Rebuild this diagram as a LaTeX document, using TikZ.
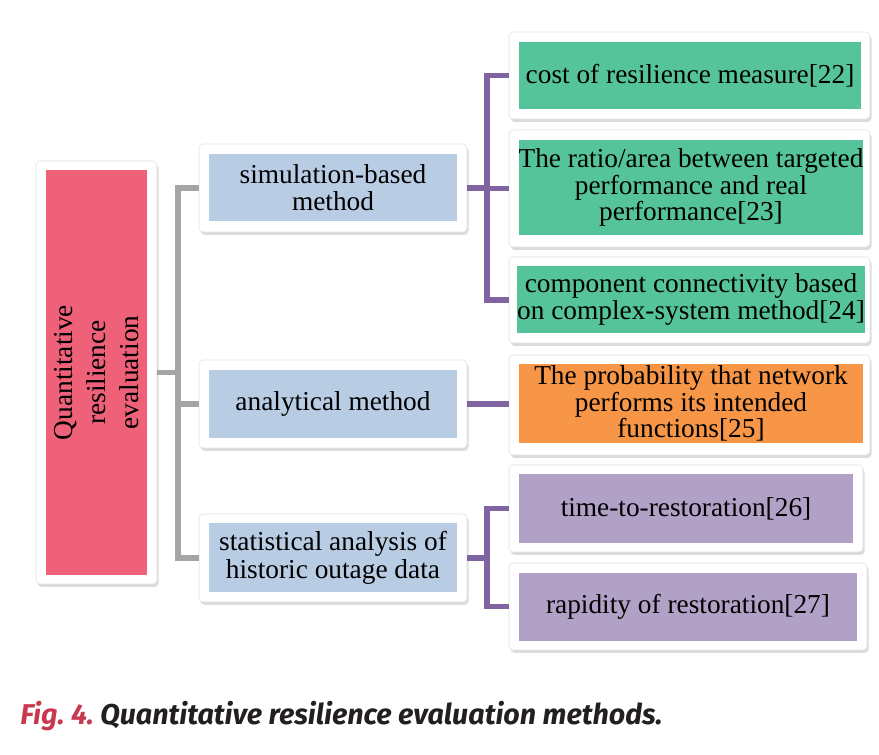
\documentclass[tikz,border=0pt]{standalone}
\usepackage{fontspec}
\setmainfont{Liberation Serif}
\newfontfamily\capfont{Fira Sans}
\usetikzlibrary{shadows}
\definecolor{qred}{HTML}{EF6178}
\definecolor{qblue}{HTML}{B8CCE4}
\definecolor{qgreen}{HTML}{55C49A}
\definecolor{qorange}{HTML}{F79646}
\definecolor{qpurple}{HTML}{B2A1C7}
\definecolor{qline}{HTML}{8064A2}
\definecolor{qgray}{HTML}{A5A5A5}
\definecolor{capred}{HTML}{C8384F}
\definecolor{captext}{HTML}{231F20}
\tikzset{
  card/.style={draw=black!12, line width=0.4pt, fill=white, rounded corners=3pt,
    drop shadow={opacity=0.28, shadow xshift=1.2pt, shadow yshift=-2.2pt}, inner sep=0pt},
  inbox/.style={inner sep=0pt, align=center, text=black},
  grayconn/.style={draw=qgray, line width=3.8pt},
  purpconn/.style={draw=qline, line width=3.8pt},
  midtxt/.style={font=\fontsize{20.5}{20.3}\selectfont},
  righttxt/.style={font=\fontsize{20.5}{18}\selectfont},
}
\begin{document}
\begin{tikzpicture}[x=0.75pt,y=-0.75pt]
\useasboundingbox (0,0) rectangle (879,755);
% left
\node[card, minimum width=121*0.75pt, minimum height=423*0.75pt] (Lc) at (96.5,372.5) {};
\node[inbox, fill=qred, minimum width=101*0.75pt, minimum height=405*0.75pt] (L) at (96.5,372.5) {};
\node[inbox, rotate=90, font=\fontsize{20.5}{24.75}\selectfont] (Lt) at (96.5,372.5) {Quantitative\\resilience\\evaluation};
% middle
\node[card, minimum width=268*0.75pt, minimum height=88*0.75pt] (Sc) at (333,188) {};
\node[inbox, midtxt, fill=qblue, minimum width=248*0.75pt, minimum height=67*0.75pt] (S) at (333,187.5) {simulation-based\\method};
\node[card, minimum width=268*0.75pt, minimum height=88*0.75pt] (Ac) at (333,404) {};
\node[inbox, midtxt, fill=qblue, minimum width=248*0.75pt, minimum height=68*0.75pt] (A) at (333,404) {analytical method};
\node[card, minimum width=268*0.75pt, minimum height=88*0.75pt] (Tc) at (333,558) {};
\node[inbox, font=\fontsize{20.5}{21}\selectfont, fill=qblue, minimum width=248*0.75pt, minimum height=69*0.75pt] (T) at (333,557.5) {statistical analysis of\\historic outage data};
% right
\node[card, minimum width=361*0.75pt, minimum height=87*0.75pt] (G1c) at (689.5,75.5) {};
\node[inbox, righttxt, fill=qgreen, minimum width=342*0.75pt, minimum height=67*0.75pt] (G1) at (690,75.5) {cost of resilience measure[22]};
\node[card, minimum width=361*0.75pt, minimum height=117*0.75pt] (G2c) at (689.5,188.5) {};
\node[inbox, righttxt, fill=qgreen, minimum width=344*0.75pt, minimum height=95*0.75pt] (G2) at (691,187.5) {The ratio/area between targeted\\performance and real\\performance[23]};
\node[card, minimum width=361*0.75pt, minimum height=86*0.75pt] (G3c) at (689.5,300) {};
\node[inbox, righttxt, fill=qgreen, minimum width=344*0.75pt, minimum height=67*0.75pt] (G3) at (691,299.5) {component connectivity based\\on complex-system method[24]};
\node[card, minimum width=361*0.75pt, minimum height=100*0.75pt] (Oc) at (689.5,405) {};
\node[inbox, righttxt, fill=qorange, minimum width=344*0.75pt, minimum height=79*0.75pt] (O) at (691,403.5) {The probability that network\\performs its intended\\functions[25]};
\node[card, minimum width=354*0.75pt, minimum height=87*0.75pt] (P1c) at (686,508.5) {};
\node[inbox, righttxt, fill=qpurple, minimum width=334*0.75pt, minimum height=69*0.75pt] (P1) at (686,508.5) {time-to-restoration[26]};
\node[card, minimum width=358*0.75pt, minimum height=87*0.75pt] (P2c) at (688,606.5) {};
\node[inbox, righttxt, fill=qpurple, minimum width=338*0.75pt, minimum height=68*0.75pt] (P2) at (688,607) {rapidity of restoration[27]};
% connectors
\coordinate (gj) at (178,372.5);
\draw[grayconn] (Lc.east) -- (gj);
\draw[grayconn] (gj) |- (Sc.west);
\draw[grayconn] (gj) |- (Ac.west);
\draw[grayconn] (gj) |- (Tc.west);
\coordinate (sj) at (487,188);
\draw[purpconn] (Sc.east) -- (sj);
\draw[purpconn] (sj) |- (G1c.west);
\draw[purpconn] (sj) |- (G2c.west);
\draw[purpconn] (sj) |- (G3c.west);
\draw[purpconn] (Ac.east) -- (Ac.east -| Oc.west);
\coordinate (tj) at (487,558);
\draw[purpconn] (Tc.east) -- (tj);
\draw[purpconn] (tj) |- (P1c.west);
\draw[purpconn] (tj) |- (P2c.west);
% caption
\node[anchor=base west, inner sep=0pt, font=\capfont\bfseries\itshape\fontsize{21.5}{24}\selectfont] (cap) at (20,724)
  {\textcolor{capred}{Fig.\ 4.}\ \textcolor{captext}{Quantitative resilience evaluation methods.}};
\end{tikzpicture}
\end{document}
